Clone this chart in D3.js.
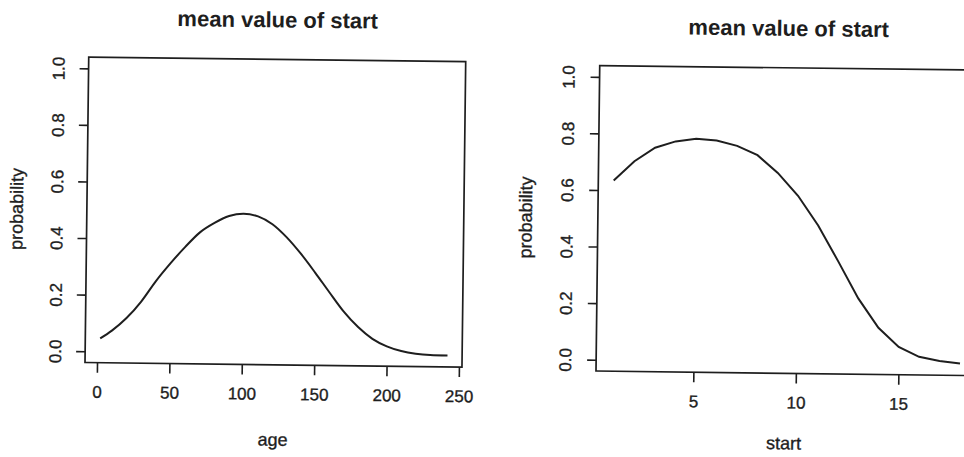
<!DOCTYPE html>
<html>
<head>
<meta charset="utf-8">
<script src="https://cdn.jsdelivr.net/npm/d3@7/dist/d3.min.js"></script>
<style>
  html, body { margin: 0; padding: 0; background: #ffffff; overflow: hidden; }
  svg { display: block; }
  text { font-family: "Liberation Sans", Arial, Helvetica, sans-serif; fill: #1e1e1e; }
</style>
</head>
<body>
<svg id="chart" width="964" height="457"></svg>
<script>
// ---- data ----
const chartTitle = "mean value of start";
const yLabel = "probability";

// left panel: probability vs age
const ageValues = [2, 10, 20, 30, 40, 50, 60, 70, 80, 90, 100, 110, 120, 130, 140, 150, 160, 170, 180, 190, 200, 210, 220, 230, 242];
const ageProb   = [0.046, 0.074, 0.119, 0.178, 0.251, 0.315, 0.373, 0.425, 0.459, 0.484, 0.493, 0.484, 0.457, 0.411, 0.353, 0.287, 0.218, 0.151, 0.097, 0.056, 0.030, 0.014, 0.005, 0.001, 0.0];
const ageTicks  = [0, 50, 100, 150, 200, 250];

// right panel: probability vs start
const startValues = [1, 2, 3, 4, 5, 6, 7, 8, 9, 10, 11, 12, 13, 14, 15, 16, 17, 18];
const startProb   = [0.634, 0.703, 0.752, 0.775, 0.785, 0.780, 0.762, 0.730, 0.668, 0.588, 0.484, 0.358, 0.228, 0.125, 0.058, 0.024, 0.010, 0.002];
const startTicks  = [5, 10, 15];

const probTicks = [0, 0.2, 0.4, 0.6, 0.8, 1.0];

// ---- layout ----
const svg = d3.select("#chart");
const boxW = 377, boxH = 305.5;
const ink = "#1e1e1e";
const tilt = 0.7; // degrees, the scan is slightly rotated
const fontFam = "'Liberation Sans', Arial, sans-serif";

function panel(opt) {
  const outer = svg.append("g")
    .attr("transform", `rotate(${tilt}, ${opt.left}, ${opt.top + boxH})`);
  const g = outer.append("g").attr("transform", `translate(${opt.left},${opt.top})`);

  const x = d3.scaleLinear().domain(opt.xDomain).range([0, boxW]);
  const y = d3.scaleLinear().domain([-0.04, 1.04]).range([boxH, 0]);

  // x axis
  const xAxis = g.append("g").attr("transform", `translate(0,${boxH})`)
    .call(d3.axisBottom(x).tickValues(opt.xTicks).tickSize(10).tickPadding(13).tickFormat(d3.format("d")));
  xAxis.select(".domain").remove();
  xAxis.selectAll(".tick line").attr("stroke", ink).attr("stroke-width", 1.6);
  xAxis.selectAll(".tick text").attr("font-size", 17).attr("fill", ink)
    .attr("stroke", ink).attr("stroke-width", 0.35)
    .attr("font-family", fontFam);

  // y axis
  const yAxis = g.append("g")
    .call(d3.axisLeft(y).tickValues(probTicks).tickSize(9).tickFormat(d3.format(".1f")));
  yAxis.select(".domain").remove();
  yAxis.selectAll(".tick line").attr("stroke", ink).attr("stroke-width", 1.6);
  yAxis.selectAll(".tick text")
    .attr("font-size", 17).attr("fill", ink)
    .attr("stroke", ink).attr("stroke-width", 0.35)
    .attr("font-family", fontFam)
    .attr("x", null).attr("dy", null)
    .attr("text-anchor", "middle")
    .attr("transform", `translate(${opt.yLabX},0) rotate(-90)`);

  // box
  g.append("rect").attr("x", 0).attr("y", 0).attr("width", boxW).attr("height", boxH)
    .attr("fill", "none").attr("stroke", ink).attr("stroke-width", 1.7);

  // curve
  const line = d3.line().x(d => x(d[0])).y(d => y(d[1])).curve(opt.curve);
  g.append("path").datum(d3.zip(opt.xs, opt.ys))
    .attr("d", line).attr("fill", "none").attr("stroke", ink).attr("stroke-width", 2);

  // title
  g.append("text").attr("x", boxW / 2).attr("y", -32)
    .attr("text-anchor", "middle").attr("font-size", 22).attr("font-weight", "bold")
    .text(chartTitle);

  // x label
  g.append("text").attr("x", boxW / 2).attr("y", boxH + opt.xLabDy)
    .attr("text-anchor", "middle").attr("font-size", 18)
    .attr("stroke", ink).attr("stroke-width", 0.35)
    .text(opt.xLabel);

  // y label
  g.append("text")
    .attr("transform", `translate(${opt.yTitleX},${boxH / 2}) rotate(-90)`)
    .attr("text-anchor", "middle").attr("font-size", 18)
    .attr("stroke", ink).attr("stroke-width", 0.35)
    .text(yLabel);
}

panel({
  left: 85, top: 57,
  xDomain: [-8.3, 252.1], xTicks: ageTicks,
  xs: ageValues, ys: ageProb, xLabel: "age", xLabDy: 81,
  curve: d3.curveMonotoneX, yLabX: -24, yTitleX: -64
});

panel({
  left: 596, top: 65.5,
  xDomain: [0.25, 18.64], xTicks: startTicks,
  xs: startValues, ys: startProb, xLabel: "start", xLabDy: 76,
  curve: d3.curveLinear, yLabX: -25, yTitleX: -66
});
</script>
</body>
</html>
